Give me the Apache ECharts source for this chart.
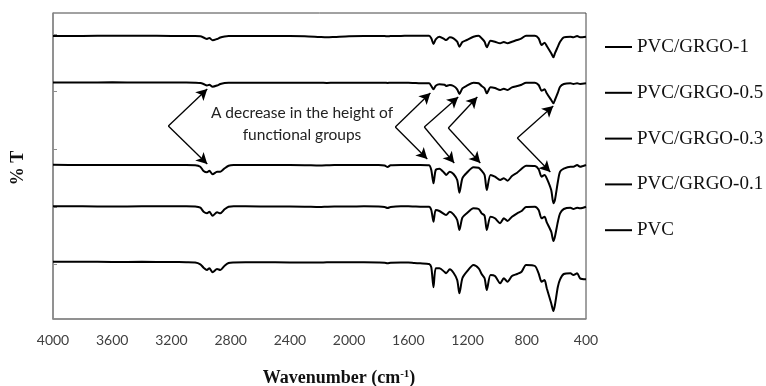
<!DOCTYPE html>
<html>
<head>
<meta charset="utf-8">
<script src="https://cdn.jsdelivr.net/npm/echarts@6/dist/echarts.min.js"></script>
<style>html,body{margin:0;padding:0;background:#fff}#c{width:766px;height:386px}</style>
</head>
<body>
<div id="c"></div>
<script>
// Wavenumbers (cm-1), shared by all spectra
var wavenumbers = [4000,3800,3600,3400,3200,3100,3040,3005,2983,2960,2944,2922,2892,2870,2841,2814,2780,2700,2500,2300,2200,2150,2100,2000,1900,1800,1760,1740,1720,1650,1600,1560,
  1520,1460,1445,1430,1415,1390,1355,1345,1320,1295,1270,1255,1235,1205,1160,1125,1105,1085,1070,1045,1015,980,955,930,900,865,835,805,745,720,700,680,665,635,620,610,590,575,550,505,485,460,440,400];

var seriesNames = ['PVC/GRGO-1','PVC/GRGO-0.5','PVC/GRGO-0.3','PVC/GRGO-0.1','PVC'];

// Stacked (offset) transmittance traces, in plot units
var tGRGO1 = [283,283,283.3,283.3,283,283,283,282.7,281.5,280,281,278.7,280,281.5,282.5,283,283,283,283,282.7,282,281.7,282,282.7,283,283,283,282.7,283,283,283.3,283.3,
  283.3,283.3,280.7,275,279.7,282.3,279.7,279,281.7,280.7,277.3,272.3,277,279,282.3,283.3,280.7,277.3,271.7,278.3,277.3,275.7,277,275.7,277.3,279,280.7,283.3,283.3,280.7,274,276.3,273,265.7,261.7,265.7,272.3,277.3,281.7,282.3,281.7,283,281.7,282.3];
var tGRGO05 = [236.5,236.5,236.7,236.5,236.5,236.5,236.3,236,235,233.5,234.3,232.3,233.5,235,236,236.3,236.3,236.3,236.3,236.3,236.3,236,236.3,236.3,236.3,236.3,236.3,236,236.3,236.3,236.3,236,
  235.7,235.7,233,229.7,233.3,234.7,234.3,233,234,233,229.7,225,230.7,233.3,236.3,235.7,233,230.7,225.7,231.7,231,229,230.3,229,231.7,233,234.3,236.3,236.3,234,228.3,229.7,225.7,219,215.7,219,226.3,232.3,235,235.7,235,235.7,235,235.7];
var tGRGO03 = [154.2,154,154,154,154,154,153.8,152.3,148,146.7,148.3,144.7,147.3,147.3,150.7,153.3,154,154,154,153.8,153.5,153.7,154,154,154,154,153.5,152,153.7,154,154,154,
  154,153.7,149,135.7,149,150.3,145.7,144,147.3,145,139,126.3,140.7,146.3,151.7,151.3,148.3,144,129,144,142.3,139,140.7,138.3,143,146.3,150.3,153.3,153,149.7,142.3,144,140.7,129,115.7,119,137.3,147.3,150.3,152.3,152.3,154,152.3,154];
var tGRGO01 = [112.7,112.7,112.5,112.7,112.7,112.7,112.5,111.3,107.3,105.7,107.3,103.3,106.7,105.7,109.7,112.3,112.7,112.7,112.5,112.3,112,112.3,112.5,112.5,112.7,112.5,112,111,112,112.7,112.7,112.5,
  112.3,112.3,109,97.3,109,108,104.7,104,107.3,104.7,99,89,101.3,105.7,110.7,110,105.7,103.3,89,102.3,100.7,95.7,100.7,98,102.3,105.7,108,112,112.3,109,100.7,102.3,96.7,87.3,78,82.3,97.3,105.7,110,111.3,110,111.3,110.7,112.3];
var tPVC = [57.3,57.3,57,57.2,57,56.8,56.5,54.7,51.3,49,50.7,46.7,50,49,53.3,56,56.5,56.7,56.7,56.5,56.5,56.7,56.7,56.7,56.7,56.5,56.3,55.7,56.3,56.5,56.5,56,
  55.7,55,51.7,31.7,50.7,50.7,47,45.7,49.7,46.3,39,25.7,40.7,47.3,54,50.7,45,40.7,29,44,43,35.7,40.7,37.3,43,45,47.3,54,53,45.7,37.3,39,30.7,15.7,8,14,32.3,39.7,45,45.7,44,45.7,40.7,39.7];

var xTickLabels = ['4000','3600','3200','2800','2400','2000','1600','1200','800','400'];
var yTickValues = [54.5,112.1,169.7,227.3,284.9];

var traces = [tGRGO1, tGRGO05, tGRGO03, tGRGO01, tPVC];

function pairs(arr){ return wavenumbers.map(function(w,i){ return [w, arr[i]]; }); }

var arrowLines = [
  [[3221,193],[2958,230]], [[3221,193],[2958,155]],
  [[1688,192],[1451,226]], [[1688,192],[1472,160]],
  [[1492,192],[1263,222]], [[1492,192],[1290,156]],
  [[1330,191],[1134,222]], [[1330,191],[1114,156]],
  [[864,181],[621,213]],   [[864,181],[641,147]]
];

var series = traces.map(function(t, i){
  var s = {
    name: seriesNames[i], type: 'line', data: pairs(t), showSymbol: false,
    smooth: 0.25, color: '#000',
    lineStyle: { color: '#000', width: 2 }, silent: true, animation: false, z: 3
  };
  if (i === 0) {
    s.markLine = {
      silent: true, animation: false, symbol: ['none','arrow'], symbolSize: [9, 11],
      lineStyle: { color: '#000', width: 1.3, type: 'solid' }, label: { show: false },
      data: arrowLines.map(function(l){ return [{coord: l[0]}, {coord: l[1]}]; })
    };
  }
  return s;
});

var chart = echarts.init(document.getElementById('c'), null, {renderer: 'canvas'});
chart.setOption({
  animation: false,
  backgroundColor: '#fff',
  grid: { left: 53, right: 180, top: 13, bottom: 67, show: true, borderColor: '#444', borderWidth: 1 },
  xAxis: {
    type: 'value', inverse: true, min: 400, max: 4000, interval: 400,
    axisLine: { show: true, lineStyle: { color: '#8c8c8c', width: 1.5 } },
    axisTick: { show: false }, splitLine: { show: false },
    axisLabel: { margin: 14, fontFamily: 'Lato', fontSize: 14, color: '#404040',
      formatter: function(v){ var s = String(v); return xTickLabels.indexOf(s) >= 0 ? s : ''; } }
  },
  yAxis: {
    type: 'value', min: 0, max: 306,
    axisLine: { show: true, lineStyle: { color: '#8c8c8c', width: 1.5 } },
    axisTick: { show: true, inside: true, length: 4, customValues: yTickValues, lineStyle: { color: '#8c8c8c' } },
    axisLabel: { show: false }, splitLine: { show: false }
  },
  legend: {
    orient: 'vertical', left: 605, top: 37, padding: 0, itemWidth: 27, itemHeight: 2, itemGap: 25.8,
    icon: 'rect', data: seriesNames, selectedMode: false,
    textStyle: { fontFamily: 'Liberation Serif', fontSize: 19, lineHeight: 20, color: '#111' }
  },
  graphic: [
    { type: 'text', x: 302, y: 124, style: {
        text: 'A decrease in the height of\nfunctional groups', textAlign: 'center', textVerticalAlign: 'middle',
        font: '15.5px Lato', lineHeight: 22, fill: '#222' } },
    { type: 'text', x: 339, y: 378, style: {
        text: '{b|Wavenumber (cm}{s|-1}{b|)}', textAlign: 'center', textVerticalAlign: 'middle',
        rich: { b: { fontFamily: 'Liberation Serif', fontWeight: 'bold', fontSize: 18, fill: '#111' },
                s: { fontFamily: 'Liberation Serif', fontWeight: 'bold', fontSize: 11, fill: '#111', verticalAlign: 'top', padding: [0,0,8,0] } } } },
    { type: 'text', x: 18, y: 168, rotation: Math.PI / 2, style: {
        text: '% T', textAlign: 'center', textVerticalAlign: 'middle',
        font: 'bold 18px "Liberation Serif"', fill: '#111' } }
  ],
  series: series
});
</script>
</body>
</html>
